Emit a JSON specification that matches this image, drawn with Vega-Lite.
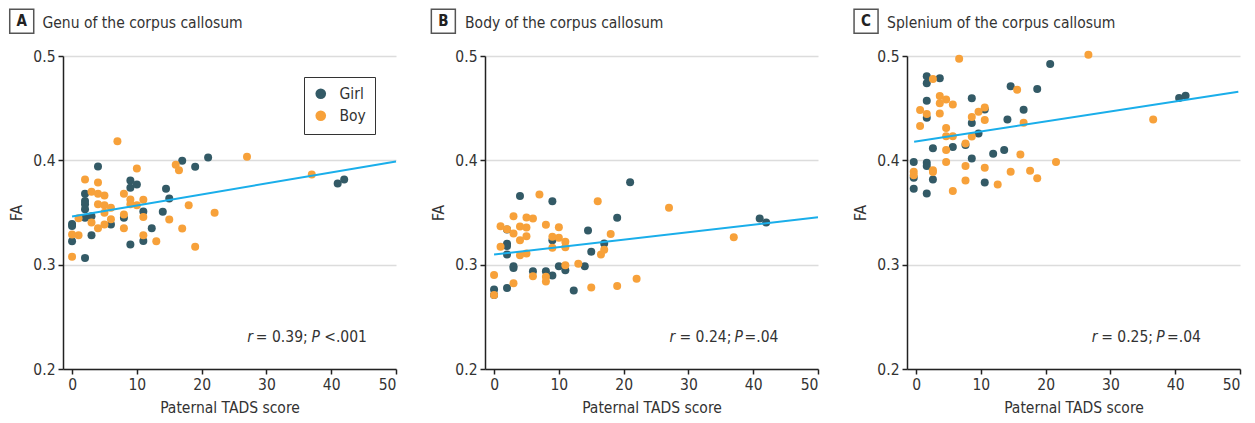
{
  "$schema": "https://vega.github.io/schema/vega-lite/v6.json",
  "padding": {"left": 6, "top": 6, "right": 5, "bottom": 5},
  "bounds": "flush",
  "spacing": 89,
  "config": {
    "font": "DejaVu Sans Condensed",
    "view": {"stroke": null},
    "axis": {
      "labelFont": "DejaVu Sans Condensed", "labelFontSize": 15.5, "labelColor": "#333",
      "titleFont": "DejaVu Sans Condensed", "titleFontSize": 15.5, "titleFontWeight": "normal", "titleColor": "#333",
      "domainColor": "#222", "domainWidth": 1.5, "tickColor": "#222", "tickWidth": 1.5, "tickSize": 5,
      "gridColor": "#dcdcdc", "gridWidth": 1.5
    },
    "legend": {"labelFont": "DejaVu Sans Condensed", "labelFontSize": 15.5, "labelColor": "#333"}
  },
  "resolve": {"legend": {"color": "independent"}},
  "datasets": {
    "pts": [
      {"p":"A","s":"Girl","x":0,"y":0.339},{"p":"A","s":"Girl","x":0,"y":0.337},{"p":"A","s":"Girl","x":0,"y":0.3225},{"p":"A","s":"Girl","x":2,"y":0.3065},{"p":"A","s":"Girl","x":2,"y":0.368},{"p":"A","s":"Girl","x":2,"y":0.361},{"p":"A","s":"Girl","x":2,"y":0.358},{"p":"A","s":"Girl","x":2,"y":0.353},{"p":"A","s":"Girl","x":2,"y":0.345},{"p":"A","s":"Girl","x":3,"y":0.3465},{"p":"A","s":"Girl","x":3,"y":0.3283},{"p":"A","s":"Girl","x":4,"y":0.394},{"p":"A","s":"Girl","x":6,"y":0.3385},{"p":"A","s":"Girl","x":8,"y":0.345},{"p":"A","s":"Girl","x":9,"y":0.3807},{"p":"A","s":"Girl","x":9,"y":0.3737},{"p":"A","s":"Girl","x":9,"y":0.3193},{"p":"A","s":"Girl","x":10,"y":0.3769},{"p":"A","s":"Girl","x":11,"y":0.351},{"p":"A","s":"Girl","x":11,"y":0.3228},{"p":"A","s":"Girl","x":12.3,"y":0.335},{"p":"A","s":"Girl","x":14,"y":0.3506},{"p":"A","s":"Girl","x":14.5,"y":0.3727},{"p":"A","s":"Girl","x":15,"y":0.3634},{"p":"A","s":"Girl","x":17,"y":0.3996},{"p":"A","s":"Girl","x":19,"y":0.3938},{"p":"A","s":"Girl","x":21,"y":0.4028},{"p":"A","s":"Girl","x":41,"y":0.3778},{"p":"A","s":"Girl","x":42,"y":0.3817},
      {"p":"A","s":"Boy","x":0,"y":0.329},{"p":"A","s":"Boy","x":0,"y":0.3075},{"p":"A","s":"Boy","x":1,"y":0.3283},{"p":"A","s":"Boy","x":1,"y":0.3446},{"p":"A","s":"Boy","x":2,"y":0.3817},{"p":"A","s":"Boy","x":3,"y":0.3698},{"p":"A","s":"Boy","x":3,"y":0.3404},{"p":"A","s":"Boy","x":4,"y":0.3788},{"p":"A","s":"Boy","x":4,"y":0.3679},{"p":"A","s":"Boy","x":4,"y":0.358},{"p":"A","s":"Boy","x":4,"y":0.335},{"p":"A","s":"Boy","x":5,"y":0.3663},{"p":"A","s":"Boy","x":5,"y":0.357},{"p":"A","s":"Boy","x":5,"y":0.3497},{"p":"A","s":"Boy","x":5,"y":0.3385},{"p":"A","s":"Boy","x":6,"y":0.3545},{"p":"A","s":"Boy","x":6,"y":0.3436},{"p":"A","s":"Boy","x":7,"y":0.4184},{"p":"A","s":"Boy","x":8,"y":0.368},{"p":"A","s":"Boy","x":8,"y":0.348},{"p":"A","s":"Boy","x":8,"y":0.335},{"p":"A","s":"Boy","x":9,"y":0.3625},{"p":"A","s":"Boy","x":9,"y":0.358},{"p":"A","s":"Boy","x":10,"y":0.3922},{"p":"A","s":"Boy","x":10,"y":0.357},{"p":"A","s":"Boy","x":11,"y":0.3622},{"p":"A","s":"Boy","x":11,"y":0.3458},{"p":"A","s":"Boy","x":11,"y":0.3283},{"p":"A","s":"Boy","x":13,"y":0.3225},{"p":"A","s":"Boy","x":15,"y":0.3433},{"p":"A","s":"Boy","x":16,"y":0.3957},{"p":"A","s":"Boy","x":16.5,"y":0.3906},{"p":"A","s":"Boy","x":17,"y":0.3347},{"p":"A","s":"Boy","x":18,"y":0.357},{"p":"A","s":"Boy","x":19,"y":0.3171},{"p":"A","s":"Boy","x":22,"y":0.3497},{"p":"A","s":"Boy","x":27,"y":0.4034},{"p":"A","s":"Boy","x":37,"y":0.3865},
      {"p":"B","s":"Girl","x":0,"y":0.2761},{"p":"B","s":"Girl","x":0,"y":0.271},{"p":"B","s":"Girl","x":2,"y":0.2777},{"p":"B","s":"Girl","x":2,"y":0.3337},{"p":"B","s":"Girl","x":2,"y":0.32},{"p":"B","s":"Girl","x":2,"y":0.318},{"p":"B","s":"Girl","x":2,"y":0.3097},{"p":"B","s":"Girl","x":3,"y":0.2969},{"p":"B","s":"Girl","x":3,"y":0.2985},{"p":"B","s":"Girl","x":4,"y":0.3657},{"p":"B","s":"Girl","x":6,"y":0.2937},{"p":"B","s":"Girl","x":8,"y":0.2937},{"p":"B","s":"Girl","x":9,"y":0.3609},{"p":"B","s":"Girl","x":9,"y":0.3235},{"p":"B","s":"Girl","x":9,"y":0.2896},{"p":"B","s":"Girl","x":10,"y":0.2985},{"p":"B","s":"Girl","x":11,"y":0.2947},{"p":"B","s":"Girl","x":12.3,"y":0.2752},{"p":"B","s":"Girl","x":14,"y":0.2985},{"p":"B","s":"Girl","x":14.5,"y":0.3327},{"p":"B","s":"Girl","x":15,"y":0.3123},{"p":"B","s":"Girl","x":17,"y":0.3203},{"p":"B","s":"Girl","x":19,"y":0.3449},{"p":"B","s":"Girl","x":21,"y":0.3791},{"p":"B","s":"Girl","x":41,"y":0.3442},{"p":"B","s":"Girl","x":42,"y":0.3404},
      {"p":"B","s":"Boy","x":0,"y":0.2902},{"p":"B","s":"Boy","x":0,"y":0.271},{"p":"B","s":"Boy","x":1,"y":0.3369},{"p":"B","s":"Boy","x":1,"y":0.3171},{"p":"B","s":"Boy","x":2,"y":0.334},{"p":"B","s":"Boy","x":3,"y":0.3465},{"p":"B","s":"Boy","x":3,"y":0.3299},{"p":"B","s":"Boy","x":3,"y":0.2822},{"p":"B","s":"Boy","x":4,"y":0.3366},{"p":"B","s":"Boy","x":4,"y":0.3235},{"p":"B","s":"Boy","x":4,"y":0.3091},{"p":"B","s":"Boy","x":5,"y":0.3452},{"p":"B","s":"Boy","x":5,"y":0.3356},{"p":"B","s":"Boy","x":5,"y":0.3273},{"p":"B","s":"Boy","x":5,"y":0.3107},{"p":"B","s":"Boy","x":6,"y":0.3442},{"p":"B","s":"Boy","x":6,"y":0.2889},{"p":"B","s":"Boy","x":7,"y":0.3673},{"p":"B","s":"Boy","x":8,"y":0.3382},{"p":"B","s":"Boy","x":8,"y":0.2883},{"p":"B","s":"Boy","x":8,"y":0.2838},{"p":"B","s":"Boy","x":9,"y":0.3267},{"p":"B","s":"Boy","x":9,"y":0.3161},{"p":"B","s":"Boy","x":10,"y":0.3359},{"p":"B","s":"Boy","x":10,"y":0.3257},{"p":"B","s":"Boy","x":11,"y":0.3219},{"p":"B","s":"Boy","x":11,"y":0.3167},{"p":"B","s":"Boy","x":11,"y":0.2995},{"p":"B","s":"Boy","x":13,"y":0.3008},{"p":"B","s":"Boy","x":15,"y":0.278},{"p":"B","s":"Boy","x":16,"y":0.3609},{"p":"B","s":"Boy","x":16.5,"y":0.3097},{"p":"B","s":"Boy","x":17,"y":0.3142},{"p":"B","s":"Boy","x":18,"y":0.3295},{"p":"B","s":"Boy","x":19,"y":0.2796},{"p":"B","s":"Boy","x":22,"y":0.2864},{"p":"B","s":"Boy","x":27,"y":0.3545},{"p":"B","s":"Boy","x":37,"y":0.3263},
      {"p":"C","s":"Girl","x":-0.36,"y":0.3983},{"p":"C","s":"Girl","x":-0.36,"y":0.3833},{"p":"C","s":"Girl","x":-0.36,"y":0.3727},{"p":"C","s":"Girl","x":1.65,"y":0.4805},{"p":"C","s":"Girl","x":1.65,"y":0.4738},{"p":"C","s":"Girl","x":1.65,"y":0.4571},{"p":"C","s":"Girl","x":1.65,"y":0.4408},{"p":"C","s":"Girl","x":1.65,"y":0.3977},{"p":"C","s":"Girl","x":1.65,"y":0.3945},{"p":"C","s":"Girl","x":1.65,"y":0.3682},{"p":"C","s":"Girl","x":2.6,"y":0.4117},{"p":"C","s":"Girl","x":2.6,"y":0.3817},{"p":"C","s":"Girl","x":3.66,"y":0.4786},{"p":"C","s":"Girl","x":5.67,"y":0.4127},{"p":"C","s":"Girl","x":7.63,"y":0.4146},{"p":"C","s":"Girl","x":8.6,"y":0.4594},{"p":"C","s":"Girl","x":8.6,"y":0.4357},{"p":"C","s":"Girl","x":8.6,"y":0.4018},{"p":"C","s":"Girl","x":9.64,"y":0.4258},{"p":"C","s":"Girl","x":10.6,"y":0.4488},{"p":"C","s":"Girl","x":10.6,"y":0.3788},{"p":"C","s":"Girl","x":11.9,"y":0.4063},{"p":"C","s":"Girl","x":13.6,"y":0.4098},{"p":"C","s":"Girl","x":14.1,"y":0.4392},{"p":"C","s":"Girl","x":14.6,"y":0.4709},{"p":"C","s":"Girl","x":16.6,"y":0.4485},{"p":"C","s":"Girl","x":18.7,"y":0.4683},{"p":"C","s":"Girl","x":20.7,"y":0.4923},{"p":"C","s":"Girl","x":40.6,"y":0.4597},{"p":"C","s":"Girl","x":41.6,"y":0.4619},
      {"p":"C","s":"Boy","x":-0.36,"y":0.389},{"p":"C","s":"Boy","x":-0.36,"y":0.3858},{"p":"C","s":"Boy","x":0.62,"y":0.4482},{"p":"C","s":"Boy","x":0.62,"y":0.4328},{"p":"C","s":"Boy","x":1.65,"y":0.4444},{"p":"C","s":"Boy","x":2.6,"y":0.4779},{"p":"C","s":"Boy","x":2.6,"y":0.3906},{"p":"C","s":"Boy","x":2.6,"y":0.3887},{"p":"C","s":"Boy","x":3.66,"y":0.4616},{"p":"C","s":"Boy","x":3.66,"y":0.4546},{"p":"C","s":"Boy","x":3.66,"y":0.445},{"p":"C","s":"Boy","x":4.64,"y":0.4584},{"p":"C","s":"Boy","x":4.64,"y":0.4309},{"p":"C","s":"Boy","x":4.64,"y":0.4232},{"p":"C","s":"Boy","x":4.64,"y":0.4098},{"p":"C","s":"Boy","x":4.64,"y":0.3983},{"p":"C","s":"Boy","x":5.67,"y":0.4536},{"p":"C","s":"Boy","x":5.67,"y":0.4232},{"p":"C","s":"Boy","x":5.67,"y":0.3705},{"p":"C","s":"Boy","x":6.65,"y":0.4974},{"p":"C","s":"Boy","x":7.63,"y":0.4162},{"p":"C","s":"Boy","x":7.63,"y":0.3945},{"p":"C","s":"Boy","x":7.63,"y":0.3807},{"p":"C","s":"Boy","x":8.6,"y":0.4415},{"p":"C","s":"Boy","x":8.6,"y":0.4229},{"p":"C","s":"Boy","x":9.64,"y":0.4466},{"p":"C","s":"Boy","x":10.6,"y":0.4507},{"p":"C","s":"Boy","x":10.6,"y":0.4386},{"p":"C","s":"Boy","x":10.6,"y":0.3929},{"p":"C","s":"Boy","x":12.6,"y":0.3769},{"p":"C","s":"Boy","x":14.6,"y":0.389},{"p":"C","s":"Boy","x":15.6,"y":0.4677},{"p":"C","s":"Boy","x":16.1,"y":0.4057},{"p":"C","s":"Boy","x":16.6,"y":0.436},{"p":"C","s":"Boy","x":17.6,"y":0.39},{"p":"C","s":"Boy","x":18.7,"y":0.3829},{"p":"C","s":"Boy","x":21.6,"y":0.3983},{"p":"C","s":"Boy","x":26.6,"y":0.5013},{"p":"C","s":"Boy","x":36.6,"y":0.4392}
    ],
    "fit": [
      {"p":"A","x":0,"y":0.3462},{"p":"A","x":50,"y":0.3989},
      {"p":"B","x":0,"y":0.3097},{"p":"B","x":50,"y":0.3455},
      {"p":"C","x":-0.3,"y":0.4178},{"p":"C","x":49.74,"y":0.4658}
    ],
    "box": [
      {"p":"A","x":-7.77,"y":0.5333,"t":"A"},
      {"p":"B","x":-7.83,"y":0.5333,"t":"B"},
      {"p":"C","x":-7.72,"y":0.5333,"t":"C"}
    ],
    "ttl": [
      {"p":"A","x":-4.57,"y":0.5272,"t":"Genu of the corpus callosum"},
      {"p":"B","x":-4.48,"y":0.5272,"t":"Body of the corpus callosum"},
      {"p":"C","x":-4.48,"y":0.5272,"t":"Splenium of the corpus callosum"}
    ],
    "itl": [
      {"p":"A","x":27.03,"y":0.2256,"t":"r"},{"p":"A","x":36.97,"y":0.2256,"t":"P"},
      {"p":"B","x":27.08,"y":0.2256,"t":"r"},{"p":"B","x":37.11,"y":0.2256,"t":"P"},
      {"p":"C","x":27.12,"y":0.2256,"t":"r"},{"p":"C","x":37.06,"y":0.2256,"t":"P"}
    ],
    "nrm": [
      {"p":"A","x":28.37,"y":0.2256,"t":"= 0.39;"},{"p":"A","x":38.92,"y":0.2256,"t":"<.001"},
      {"p":"B","x":28.62,"y":0.2256,"t":"= 0.24;"},{"p":"B","x":38.66,"y":0.2256,"t":"=.04"},
      {"p":"C","x":28.57,"y":0.2256,"t":"= 0.25;"},{"p":"C","x":38.75,"y":0.2256,"t":"=.04"}
    ]
  },
  "hconcat": [
    {
      "width": 333, "height": 313,
      "layer": [
        {"data": {"name": "pts"}, "transform": [{"filter": "datum.p == 'A'"}],
         "mark": {"type": "circle", "size": 64, "opacity": 1},
         "encoding": {
           "x": {"field": "x", "type": "quantitative", "scale": {"domain": [-1.4, 50], "nice": false, "zero": false}, "axis": {"values": [0,10,20,30,40,50], "title": "Paternal TADS score", "grid": false, "labelPadding": 3, "titlePadding": 8}},
           "y": {"field": "y", "type": "quantitative", "scale": {"domain": [0.2, 0.5], "nice": false, "zero": false}, "axis": {"values": [0.2,0.3,0.4,0.5], "format": ".1f", "title": "FA", "grid": true, "labelPadding": 3, "titlePadding": 8}},
           "color": {"field": "s", "type": "nominal", "scale": {"domain": ["Girl","Boy"], "range": ["#335a66","#f7a13a"]},
             "legend": {"title": null, "orient": "top-right", "offset": 21, "padding": 9, "strokeColor": "#333", "symbolSize": 113, "symbolType": "circle", "symbolStrokeWidth": 0, "labelOffset": 11, "rowPadding": 5}}
         }},
        {"data": {"name": "fit"}, "transform": [{"filter": "datum.p == 'A'"}],
         "mark": {"type": "line", "color": "#1aaeea", "strokeWidth": 2},
         "encoding": {"x": {"field": "x", "type": "quantitative"}, "y": {"field": "y", "type": "quantitative"}}},
        {"data": {"name": "box"}, "transform": [{"filter": "datum.p == 'A'"}],
         "mark": {"type": "point", "shape": "square", "size": 576, "filled": false, "stroke": "#555", "strokeWidth": 1.5, "opacity": 1},
         "encoding": {"x": {"field": "x", "type": "quantitative"}, "y": {"field": "y", "type": "quantitative"}}},
        {"data": {"name": "box"}, "transform": [{"filter": "datum.p == 'A'"}],
         "mark": {"type": "text", "fontSize": 15, "fontWeight": "bold", "color": "#222", "align": "center", "baseline": "middle"},
         "encoding": {"x": {"field": "x", "type": "quantitative"}, "y": {"field": "y", "type": "quantitative"}, "text": {"field": "t"}}},
        {"data": {"name": "ttl"}, "transform": [{"filter": "datum.p == 'A'"}],
         "mark": {"type": "text", "fontSize": 15.5, "color": "#333", "align": "left", "baseline": "alphabetic"},
         "encoding": {"x": {"field": "x", "type": "quantitative"}, "y": {"field": "y", "type": "quantitative"}, "text": {"field": "t"}}},
        {"data": {"name": "itl"}, "transform": [{"filter": "datum.p == 'A'"}],
         "mark": {"type": "text", "fontSize": 15.5, "fontStyle": "italic", "color": "#333", "align": "left", "baseline": "alphabetic"},
         "encoding": {"x": {"field": "x", "type": "quantitative"}, "y": {"field": "y", "type": "quantitative"}, "text": {"field": "t"}}},
        {"data": {"name": "nrm"}, "transform": [{"filter": "datum.p == 'A'"}],
         "mark": {"type": "text", "fontSize": 15.5, "color": "#333", "align": "left", "baseline": "alphabetic"},
         "encoding": {"x": {"field": "x", "type": "quantitative"}, "y": {"field": "y", "type": "quantitative"}, "text": {"field": "t"}}}
      ]
    },
    {
      "width": 333, "height": 313,
      "layer": [
        {"data": {"name": "pts"}, "transform": [{"filter": "datum.p == 'B'"}],
         "mark": {"type": "circle", "size": 64, "opacity": 1},
         "encoding": {
           "x": {"field": "x", "type": "quantitative", "scale": {"domain": [-1.4, 50], "nice": false, "zero": false}, "axis": {"values": [0,10,20,30,40,50], "title": "Paternal TADS score", "grid": false, "labelPadding": 3, "titlePadding": 8}},
           "y": {"field": "y", "type": "quantitative", "scale": {"domain": [0.2, 0.5], "nice": false, "zero": false}, "axis": {"values": [0.2,0.3,0.4,0.5], "format": ".1f", "title": "FA", "grid": true, "labelPadding": 3, "titlePadding": 8}},
           "color": {"field": "s", "type": "nominal", "scale": {"domain": ["Girl","Boy"], "range": ["#335a66","#f7a13a"]}, "legend": null}
         }},
        {"data": {"name": "fit"}, "transform": [{"filter": "datum.p == 'B'"}],
         "mark": {"type": "line", "color": "#1aaeea", "strokeWidth": 2},
         "encoding": {"x": {"field": "x", "type": "quantitative"}, "y": {"field": "y", "type": "quantitative"}}},
        {"data": {"name": "box"}, "transform": [{"filter": "datum.p == 'B'"}],
         "mark": {"type": "point", "shape": "square", "size": 576, "filled": false, "stroke": "#555", "strokeWidth": 1.5, "opacity": 1},
         "encoding": {"x": {"field": "x", "type": "quantitative"}, "y": {"field": "y", "type": "quantitative"}}},
        {"data": {"name": "box"}, "transform": [{"filter": "datum.p == 'B'"}],
         "mark": {"type": "text", "fontSize": 15, "fontWeight": "bold", "color": "#222", "align": "center", "baseline": "middle"},
         "encoding": {"x": {"field": "x", "type": "quantitative"}, "y": {"field": "y", "type": "quantitative"}, "text": {"field": "t"}}},
        {"data": {"name": "ttl"}, "transform": [{"filter": "datum.p == 'B'"}],
         "mark": {"type": "text", "fontSize": 15.5, "color": "#333", "align": "left", "baseline": "alphabetic"},
         "encoding": {"x": {"field": "x", "type": "quantitative"}, "y": {"field": "y", "type": "quantitative"}, "text": {"field": "t"}}},
        {"data": {"name": "itl"}, "transform": [{"filter": "datum.p == 'B'"}],
         "mark": {"type": "text", "fontSize": 15.5, "fontStyle": "italic", "color": "#333", "align": "left", "baseline": "alphabetic"},
         "encoding": {"x": {"field": "x", "type": "quantitative"}, "y": {"field": "y", "type": "quantitative"}, "text": {"field": "t"}}},
        {"data": {"name": "nrm"}, "transform": [{"filter": "datum.p == 'B'"}],
         "mark": {"type": "text", "fontSize": 15.5, "color": "#333", "align": "left", "baseline": "alphabetic"},
         "encoding": {"x": {"field": "x", "type": "quantitative"}, "y": {"field": "y", "type": "quantitative"}, "text": {"field": "t"}}}
      ]
    },
    {
      "width": 333, "height": 313,
      "layer": [
        {"data": {"name": "pts"}, "transform": [{"filter": "datum.p == 'C'"}],
         "mark": {"type": "circle", "size": 64, "opacity": 1},
         "encoding": {
           "x": {"field": "x", "type": "quantitative", "scale": {"domain": [-1.4, 50], "nice": false, "zero": false}, "axis": {"values": [0,10,20,30,40,50], "title": "Paternal TADS score", "grid": false, "labelPadding": 3, "titlePadding": 8}},
           "y": {"field": "y", "type": "quantitative", "scale": {"domain": [0.2, 0.5], "nice": false, "zero": false}, "axis": {"values": [0.2,0.3,0.4,0.5], "format": ".1f", "title": "FA", "grid": true, "labelPadding": 3, "titlePadding": 8}},
           "color": {"field": "s", "type": "nominal", "scale": {"domain": ["Girl","Boy"], "range": ["#335a66","#f7a13a"]}, "legend": null}
         }},
        {"data": {"name": "fit"}, "transform": [{"filter": "datum.p == 'C'"}],
         "mark": {"type": "line", "color": "#1aaeea", "strokeWidth": 2},
         "encoding": {"x": {"field": "x", "type": "quantitative"}, "y": {"field": "y", "type": "quantitative"}}},
        {"data": {"name": "box"}, "transform": [{"filter": "datum.p == 'C'"}],
         "mark": {"type": "point", "shape": "square", "size": 576, "filled": false, "stroke": "#555", "strokeWidth": 1.5, "opacity": 1},
         "encoding": {"x": {"field": "x", "type": "quantitative"}, "y": {"field": "y", "type": "quantitative"}}},
        {"data": {"name": "box"}, "transform": [{"filter": "datum.p == 'C'"}],
         "mark": {"type": "text", "fontSize": 15, "fontWeight": "bold", "color": "#222", "align": "center", "baseline": "middle"},
         "encoding": {"x": {"field": "x", "type": "quantitative"}, "y": {"field": "y", "type": "quantitative"}, "text": {"field": "t"}}},
        {"data": {"name": "ttl"}, "transform": [{"filter": "datum.p == 'C'"}],
         "mark": {"type": "text", "fontSize": 15.5, "color": "#333", "align": "left", "baseline": "alphabetic"},
         "encoding": {"x": {"field": "x", "type": "quantitative"}, "y": {"field": "y", "type": "quantitative"}, "text": {"field": "t"}}},
        {"data": {"name": "itl"}, "transform": [{"filter": "datum.p == 'C'"}],
         "mark": {"type": "text", "fontSize": 15.5, "fontStyle": "italic", "color": "#333", "align": "left", "baseline": "alphabetic"},
         "encoding": {"x": {"field": "x", "type": "quantitative"}, "y": {"field": "y", "type": "quantitative"}, "text": {"field": "t"}}},
        {"data": {"name": "nrm"}, "transform": [{"filter": "datum.p == 'C'"}],
         "mark": {"type": "text", "fontSize": 15.5, "color": "#333", "align": "left", "baseline": "alphabetic"},
         "encoding": {"x": {"field": "x", "type": "quantitative"}, "y": {"field": "y", "type": "quantitative"}, "text": {"field": "t"}}}
      ]
    }
  ]
}
